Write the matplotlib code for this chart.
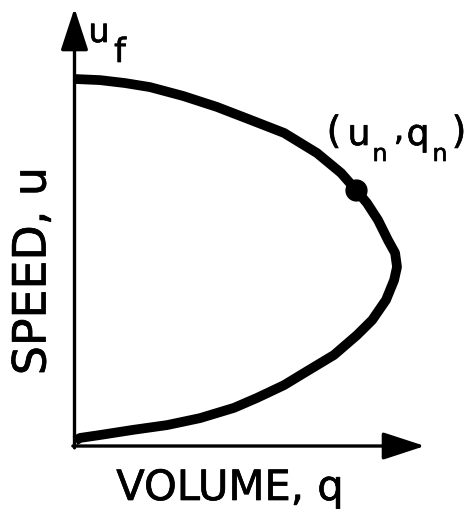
import matplotlib
matplotlib.use("Agg")
import matplotlib.pyplot as plt
import matplotlib.patheffects as pe

# speed-volume curve (q = volume, u = speed, u_f = 1)
q_curve = [0.002, 0.079, 0.156, 0.233, 0.335, 0.440, 0.546, 0.648, 0.750, 0.824,
           0.870, 0.904, 0.938, 0.969, 0.991, 0.997, 0.988, 0.963, 0.920, 0.873,
           0.802, 0.719, 0.648, 0.564, 0.493, 0.388, 0.286, 0.181, 0.079, 0.017,
           0.002]
u_curve = [1.000, 0.997, 0.989, 0.978, 0.954, 0.924, 0.888, 0.853, 0.798, 0.744,
           0.698, 0.662, 0.616, 0.561, 0.526, 0.488, 0.452, 0.398, 0.343, 0.302,
           0.248, 0.204, 0.166, 0.131, 0.104, 0.076, 0.057, 0.044, 0.030, 0.022,
           0.014]

# marked point (u_n, q_n)
q_n = 0.870
u_n = 0.698

# axis arrow ends
q_axis_end = 1.083
u_axis_end = 1.193

W, H = 468, 516
fig = plt.figure(figsize=(W / 100, H / 100), dpi=100)
ax = fig.add_axes([0, 0, 1, 1])
ax.set_xlim(-0.2303, 1.2164)
ax.set_ylim(-0.1907, 1.2153)
ax.axis("off")


def px(x, y):
    # pixel position (from top-left) -> figure fraction
    return x / W, 1 - y / H


arrow = dict(arrowstyle="-|>,head_length=2.6,head_width=0.85", lw=2.4,
             color="black", shrinkA=0, shrinkB=0)
ax.annotate("", xy=(q_axis_end, 0), xytext=(-0.005, 0), arrowprops=arrow)
ax.annotate("", xy=(0, u_axis_end), xytext=(0, -0.005), arrowprops=arrow)

ax.plot(q_curve, u_curve, color="black", lw=7, solid_capstyle="butt",
        solid_joinstyle="round")
ax.plot([q_n], [u_n], "o", color="black", markersize=15)

# slightly heavier lettering like the pen-drawn labels
txt = dict(family="DejaVu Sans", color="black",
           path_effects=[pe.withStroke(linewidth=0.5, foreground="black")])

# u_f label
fig.text(*px(99, 42), "u", fontsize=24, ha="center", va="baseline", **txt)
fig.text(*px(120, 62), "f", fontsize=24, ha="center", va="baseline", **txt)

# (u_n, q_n) label
fig.text(*px(334, 133), "(", fontsize=27, ha="center", va="center", **txt)
fig.text(*px(359, 145), "u", fontsize=26, ha="center", va="baseline", **txt)
fig.text(*px(380, 161), "n", fontsize=17, ha="center", va="baseline", **txt)
fig.text(*px(399, 140), ",", fontsize=24, ha="center", va="baseline", **txt)
fig.text(*px(418, 145), "q", fontsize=26, ha="center", va="baseline", **txt)
fig.text(*px(440, 161), "n", fontsize=17, ha="center", va="baseline", **txt)
fig.text(*px(459, 133), ")", fontsize=27, ha="center", va="center", **txt)

# axis titles
fig.text(*px(230, 500), "VOLUME, q", fontsize=30, ha="center",
         va="baseline", **txt)
fig.text(*px(33, 271), "SPEED, u", fontsize=33, ha="center",
         va="center", rotation=90, **txt)

fig.savefig("out.png", dpi=100)
